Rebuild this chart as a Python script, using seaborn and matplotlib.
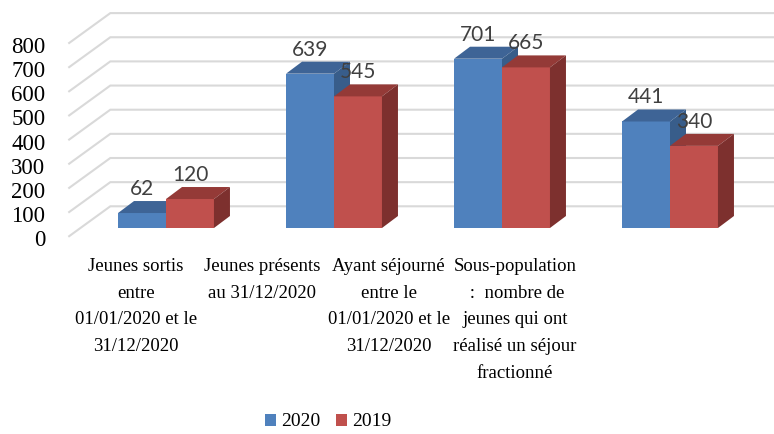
import matplotlib
matplotlib.use("Agg")
import matplotlib.pyplot as plt
import seaborn as sns
import pandas as pd
from matplotlib.patches import Polygon, Patch

# ---------------- data ----------------
categories = [
    "Jeunes sortis\nentre\n01/01/2020 et le\n31/12/2020",
    "Jeunes présents\nau 31/12/2020",
    "Ayant séjourné\nentre le\n01/01/2020 et le\n31/12/2020",
    "Sous-population\n :  nombre de\njeunes qui ont\nréalisé un séjour\nfractionné",
]
years = ["2020", "2019"]
values_2020 = [62, 639, 701, 441]
values_2019 = [120, 545, 665, 340]
y_ticks = [0, 100, 200, 300, 400, 500, 600, 700, 800]

df = pd.DataFrame({
    "categorie": categories * 2,
    "annee": [years[0]] * len(categories) + [years[1]] * len(categories),
    "valeur": values_2020 + values_2019,
})

# ---------------- style ----------------
plt.rcParams["font.family"] = ["Liberation Serif", "DejaVu Serif"]
BLUE, BLUE_TOP, BLUE_SIDE = "#4F81BD", "#3E6496", "#385D8A"
RED, RED_TOP, RED_SIDE = "#C0504D", "#943A37", "#7D302E"
GRID = "#D9D9D9"

W, H = 774, 434
fig = plt.figure(figsize=(W / 100, H / 100), dpi=100)
ax = fig.add_axes([0, 0, 1, 1])

sns.barplot(data=df, x="categorie", y="valeur", hue="annee", order=categories,
            hue_order=years, palette=[BLUE, RED], saturation=1, width=0.571,
            gap=0, errorbar=None, legend=False, ax=ax)

# pixel layout of the bar plane
CAT0_PX, CAT_STEP_PX = 166, 168
BASE_PX, PX_PER_UNIT = 228, 0.2415
ax.set_xlim(-CAT0_PX / CAT_STEP_PX, (W - CAT0_PX) / CAT_STEP_PX)
ax.set_ylim((BASE_PX - H) / PX_PER_UNIT, BASE_PX / PX_PER_UNIT)
ax.axis("off")

p0 = ax.transData.transform((0, 0))
p1 = ax.transData.transform((1, 1))
sx, sy = p1[0] - p0[0], p1[1] - p0[1]


def px(dx, dy):
    """pixel offset (right, up) -> data offset"""
    return dx / sx, dy / sy


# ---------------- walls / gridlines ----------------
WALL_X = -0.51
bdx, bdy = px(30, 21.7)     # back wall relative to bar plane
fdx, fdy = px(-12, -8.8)    # front edge relative to bar plane
xr = ax.get_xlim()[1]
for v in y_ticks:
    ax.plot([WALL_X + fdx, WALL_X + bdx, xr], [v + fdy, v + bdy, v + bdy],
            color=GRID, lw=1.5, zorder=0.5, solid_joinstyle="miter",
            solid_capstyle="butt")
    ldx, ldy = px(-23, -9.4)
    ax.text(WALL_X + fdx + ldx, v + fdy + ldy, str(v), ha="right", va="baseline",
            fontsize=16.5, color="black")

# ---------------- 3D faces + value labels ----------------
ddx, ddy = px(16, 12)
for p in ax.patches:
    x0, w, h = p.get_x(), p.get_width(), p.get_height()
    fc = p.get_facecolor()
    is_blue = abs(fc[0] - matplotlib.colors.to_rgb(BLUE)[0]) < 0.05
    top_c, side_c = (BLUE_TOP, BLUE_SIDE) if is_blue else (RED_TOP, RED_SIDE)
    z = 2 if is_blue else 3
    p.set_zorder(z)
    p.set_linewidth(0)
    ax.add_patch(Polygon([(x0, h), (x0 + w, h), (x0 + w + ddx, h + ddy), (x0 + ddx, h + ddy)],
                         closed=True, facecolor=top_c, edgecolor="none", zorder=z))
    ax.add_patch(Polygon([(x0 + w, 0), (x0 + w, h), (x0 + w + ddx, h + ddy), (x0 + w + ddx, ddy)],
                         closed=True, facecolor=side_c, edgecolor="none", zorder=z))
    ax.annotate(f"{h:.0f}", (x0 + w / 2, h), xytext=(0, 18), textcoords="offset pixels",
                ha="center", va="baseline", fontsize=15, color="#404040",
                family=["Lato", "DejaVu Sans"], zorder=6)

# ---------------- category labels ----------------
LABEL_SHIFT, LABEL_SCALE = -0.179, 0.752
for i, lab in enumerate(categories):
    _, ody = px(0, -30)
    ax.text(LABEL_SHIFT + LABEL_SCALE * i, ody, lab, ha="center", va="top",
            multialignment="center", fontsize=13.5, linespacing=1.75, color="black")

# ---------------- legend ----------------
handles = [Patch(facecolor=BLUE, edgecolor="none"), Patch(facecolor=RED, edgecolor="none")]
fig.legend(handles, years, loc="center", bbox_to_anchor=(328 / W, 1 - 422 / H),
           ncol=2, frameon=False, handlelength=0.58, handleheight=0.58,
           handletextpad=0.25, columnspacing=0.8, borderaxespad=0, borderpad=0,
           prop={"family": ["Liberation Serif"], "size": 14})

fig.savefig("out.png", dpi=100)
